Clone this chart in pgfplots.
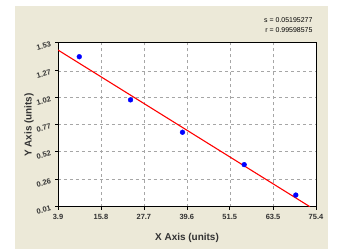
\documentclass[border=0pt]{standalone}
\usepackage{pgfplots}
\pgfplotsset{compat=1.18}
\usepackage{fontspec}
\setmainfont{Liberation Sans}
\definecolor{panel}{RGB}{236,233,216}
\definecolor{tickc}{RGB}{50,50,50}
\begin{document}
\begin{tikzpicture}[x=1bp,y=1bp]
\path[use as bounding box] (0,0) rectangle (362,249);
\fill[panel] (15,0) rectangle (328,243);
\begin{axis}[
  at={(58bp,42.3bp)}, anchor=south west,
  scale only axis, width=258bp, height=164bp,
  xmin=3.9, xmax=75.4, ymin=0.01, ymax=1.53,
  xtick={3.9,15.8,27.7,39.6,51.5,63.5,75.4},
  xticklabels={3.9,15.8,27.7,39.6,51.5,63.5,75.4},
  ytick={0.01,0.26,0.52,0.77,1.02,1.27,1.53},
  yticklabels={0.01,0.26,0.52,0.77,1.02,1.27,1.53},
  minor x tick num=4, minor y tick num=4,
  tick align=outside, xtick pos=bottom, ytick pos=left,
  major tick length=3bp, minor tick length=2bp,
  tick style={black, line width=0.6pt},
  grid=major,
  major grid style={gray!70, dashed, line width=0.5pt},
  axis background/.style={fill=white},
  axis line style={black, line width=0.8pt},
  ticklabel style={font=\fontsize{7.5}{9}\selectfont\bfseries, text=tickc},
  xticklabel style={yshift=-1bp},
  yticklabel style={rotate=15, anchor=east, xshift=-1bp},
  clip=true,
]
\addplot[red, line width=1.1pt] coordinates {(3.9,1.462) (73.7,0.01)};
\addplot[only marks, mark=*, mark size=2.4bp, color=blue] coordinates {
  (9.8,1.40) (24.0,1.00) (38.4,0.70) (55.5,0.40) (69.8,0.118)
};
\end{axis}
\node[font=\fontsize{10}{12}\selectfont\bfseries, text=tickc] at (187,11) {X Axis (units)};
\node[font=\fontsize{10}{12}\selectfont\bfseries, text=tickc, rotate=90] at (29,124) {Y Axis (units)};
\node[anchor=east, font=\fontsize{7}{8}\selectfont, text=black] at (316,229) {s = 0.05195277};
\node[anchor=east, font=\fontsize{7}{8}\selectfont, text=black] at (316,219) {r = 0.99598575};
\end{tikzpicture}
\end{document}
